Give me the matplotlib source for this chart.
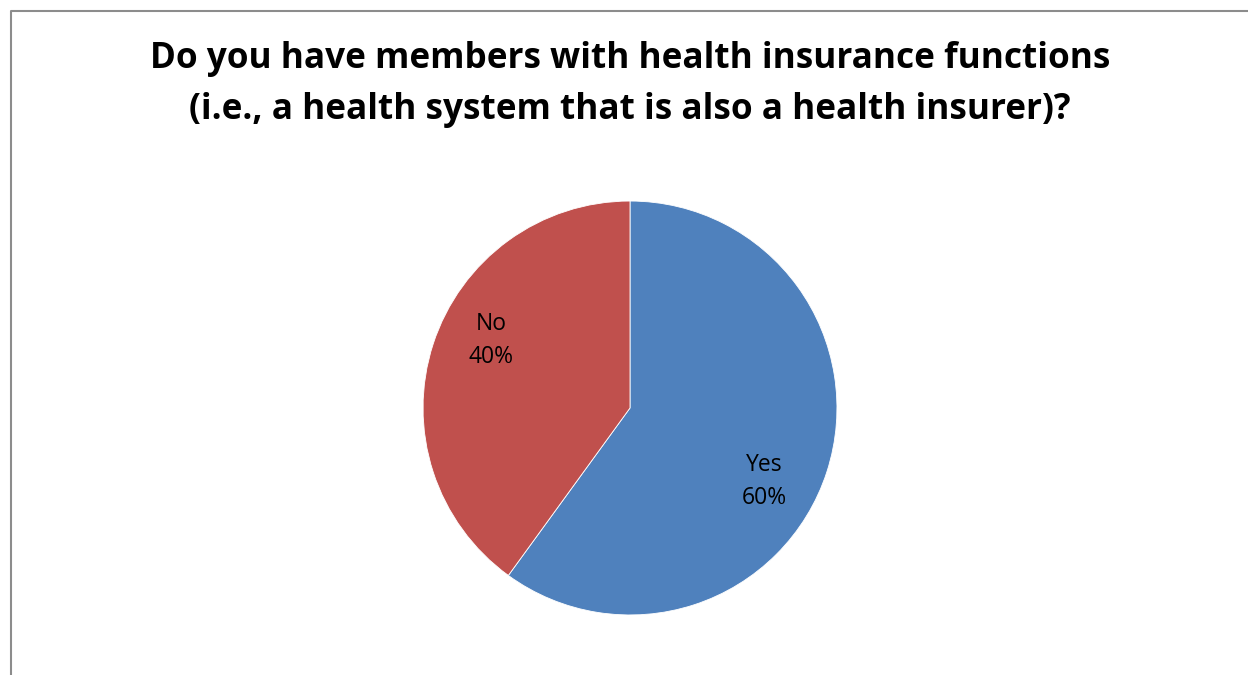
import matplotlib
matplotlib.use("Agg")
import matplotlib.pyplot as plt
from matplotlib.lines import Line2D

# data
labels = ["Yes", "No"]
shares = [60, 40]
colors = ["#4F81BD", "#C0504D"]
title = ("Do you have members with health insurance functions\n"
         "(i.e., a health system that is also a health insurer)?")

W, H = 1248, 675
fig = plt.figure(figsize=(W / 100, H / 100), dpi=100)
fig.patch.set_facecolor("white")

# chart frame (only top and left edges visible in the crop)
x0, y0 = 10.5 / W, 1 - 10.5 / H
fig.add_artist(Line2D([x0, x0, 1.0], [0.0, y0, y0], transform=fig.transFigure,
                      color="#8c8c8c", lw=1.5))

fig.text(630 / W, 1 - 84.5 / H, title, ha="center", va="center",
         fontsize=25.3, fontweight="bold", family=["Open Sans", "DejaVu Sans"],
         linespacing=1.55)

cx, cy, r = 630, 408, 208
ax = fig.add_axes([(cx - r) / W, (H - cy - r) / H, 2 * r / W, 2 * r / H])
wedges, _ = ax.pie(shares, colors=colors, startangle=90, counterclock=False,
                   wedgeprops=dict(edgecolor="white", linewidth=0.6))
ax.set_xlim(-1.005, 1.005)
ax.set_ylim(-1.005, 1.005)
ax.set_aspect("equal")
ax.axis("off")

# data labels, placed like Excel's best-fit
label_pos = [(0.65, -0.355), (-0.67, 0.325)]
for lab, val, (px, py) in zip(labels, shares, label_pos):
    ax.text(px, py, f"{lab}\n{val}%", ha="center", va="center", fontsize=16.5,
            family=["Open Sans", "DejaVu Sans"], linespacing=1.5)

fig.savefig("out.png", dpi=100, facecolor="white")
